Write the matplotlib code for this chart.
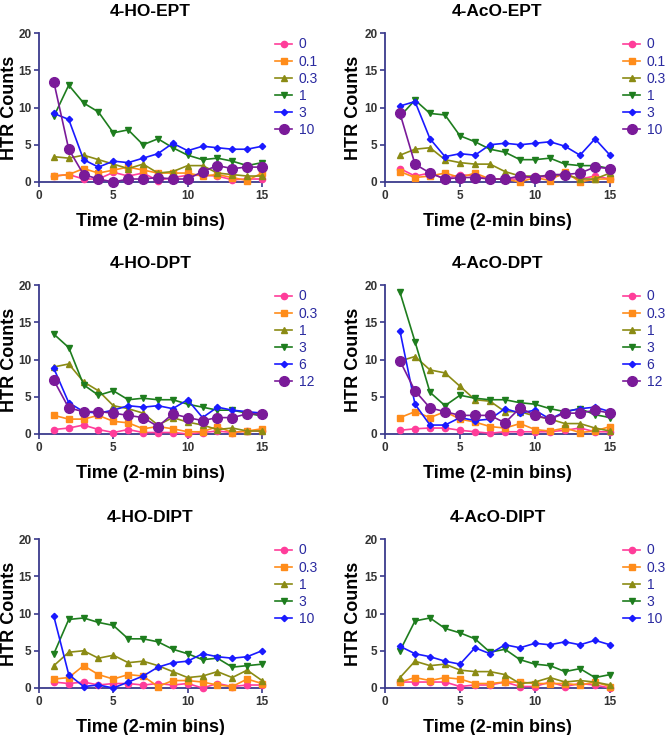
import numpy as np
import matplotlib.pyplot as plt

plt.rcParams['font.family'] = ['Liberation Sans', 'DejaVu Sans']

x = np.arange(1, 16)

# ---- data ----
titles = ["4-HO-EPT", "4-AcO-EPT", "4-HO-DPT", "4-AcO-DPT", "4-HO-DIPT", "4-AcO-DIPT"]

ho_ept_doses = ["0", "0.1", "0.3", "1", "3", "10"]
ho_ept = [
    [0.8, 1.0, 0.4, 0.4, 1.3, 0.8, 1.2, 0.2, 0.6, 0.9, 0.9, 0.8, 0.3, 0.4, 0.4],
    [0.8, 1.0, 1.8, 1.2, 1.6, 2.0, 1.6, 1.2, 1.2, 1.2, 0.8, 1.0, 0.6, 0.2, 1.2],
    [3.4, 3.2, 3.6, 3.0, 2.4, 1.8, 2.4, 1.2, 1.4, 2.2, 2.2, 1.2, 1.0, 0.8, 0.8],
    [8.8, 13.0, 10.6, 9.4, 6.6, 7.0, 5.0, 5.8, 4.6, 3.6, 3.0, 3.2, 2.8, 2.2, 2.6],
    [9.2, 8.4, 3.0, 2.0, 2.8, 2.6, 3.2, 3.8, 5.2, 4.2, 4.8, 4.6, 4.4, 4.4, 4.8],
    [13.4, 4.4, 1.0, 0.4, 0.0, 0.4, 0.4, 0.6, 0.4, 0.4, 1.4, 2.2, 1.8, 2.0, 2.0],
]

aco_ept_doses = ["0", "0.1", "0.3", "1", "3", "10"]
aco_ept = [
    [1.8, 0.8, 1.2, 0.4, 1.0, 0.8, 0.4, 0.4, 0.4, 0.8, 0.6, 1.0, 0.4, 0.8, 0.4],
    [1.4, 0.6, 0.8, 1.2, 0.6, 1.2, 0.4, 0.4, 0.0, 0.6, 0.2, 1.4, 0.0, 0.4, 0.4],
    [3.6, 4.4, 4.6, 3.0, 2.6, 2.4, 2.4, 1.4, 0.8, 0.8, 0.8, 1.0, 0.4, 0.4, 1.2],
    [8.8, 11.0, 9.2, 9.0, 6.2, 5.4, 4.4, 4.0, 3.0, 3.0, 3.2, 2.4, 2.2, 2.2, 1.8],
    [10.2, 10.8, 5.8, 3.4, 3.8, 3.6, 5.0, 5.2, 5.0, 5.2, 5.4, 4.8, 3.6, 5.8, 3.6],
    [9.2, 2.4, 1.2, 0.4, 0.6, 0.6, 0.4, 0.4, 0.8, 0.6, 1.0, 1.0, 1.2, 2.0, 1.8],
]

ho_dpt_doses = ["0", "0.3", "1", "3", "6", "12"]
ho_dpt = [
    [0.6, 0.8, 1.2, 0.6, 0.2, 0.6, 0.2, 0.2, 0.2, 0.0, 0.2, 0.4, 0.2, 0.4, 0.4],
    [2.5, 2.0, 2.0, 2.5, 1.7, 1.5, 0.7, 1.0, 0.7, 0.3, 0.3, 1.0, 0.2, 0.4, 0.7],
    [9.0, 9.4, 7.0, 5.8, 3.8, 3.4, 2.8, 1.2, 2.2, 1.6, 1.2, 0.6, 0.8, 0.4, 0.4],
    [13.4, 11.6, 6.6, 5.2, 5.8, 4.6, 4.8, 4.6, 4.6, 4.0, 3.6, 3.2, 3.2, 2.8, 2.4],
    [8.8, 4.2, 3.0, 2.8, 3.2, 3.8, 3.6, 3.8, 3.4, 4.6, 2.2, 3.6, 3.2, 3.0, 2.8],
    [7.2, 3.5, 3.0, 3.0, 2.8, 2.5, 2.2, 1.0, 2.7, 2.2, 1.8, 2.2, 2.2, 2.7, 2.7],
]

aco_dpt_doses = ["0", "0.3", "1", "3", "6", "12"]
aco_dpt = [
    [0.5, 0.7, 0.8, 0.8, 0.5, 0.3, 0.1, 0.3, 0.3, 0.3, 0.3, 0.5, 0.8, 0.3, 0.3],
    [2.2, 3.0, 2.2, 3.0, 2.0, 1.6, 1.0, 0.8, 1.4, 0.6, 0.4, 0.8, 0.2, 0.4, 1.0],
    [9.8, 10.4, 8.6, 8.2, 6.4, 4.6, 4.4, 3.0, 3.0, 2.4, 2.0, 1.4, 1.4, 0.8, 0.4],
    [19.0, 12.4, 5.6, 3.8, 5.2, 4.8, 4.6, 4.6, 4.2, 4.0, 3.4, 3.0, 3.4, 2.6, 2.2],
    [13.8, 4.0, 1.2, 1.2, 2.2, 1.8, 2.0, 3.4, 2.8, 3.2, 2.0, 3.0, 3.4, 3.6, 3.0],
    [9.8, 5.8, 3.5, 3.0, 2.5, 2.5, 2.5, 1.5, 3.5, 2.5, 2.0, 2.8, 2.8, 3.2, 2.8],
]

ho_dipt_doses = ["0", "0.3", "1", "3", "10"]
ho_dipt = [
    [0.8, 0.6, 0.8, 0.4, 0.6, 0.6, 0.4, 0.6, 0.4, 0.6, 0.0, 0.6, 0.2, 0.4, 0.4],
    [1.2, 1.4, 3.0, 1.8, 1.2, 1.8, 1.6, 0.2, 1.0, 1.0, 0.8, 0.4, 0.2, 1.2, 0.6],
    [3.0, 4.8, 5.0, 4.0, 4.4, 3.4, 3.6, 3.0, 2.2, 1.4, 1.6, 2.2, 1.4, 2.4, 1.0],
    [4.6, 9.2, 9.4, 8.8, 8.4, 6.6, 6.6, 6.2, 5.2, 4.6, 3.8, 4.0, 2.8, 3.0, 3.2],
    [9.6, 1.8, 0.2, 0.4, 0.0, 0.8, 1.6, 2.8, 3.4, 3.6, 4.6, 4.2, 4.0, 4.2, 5.0],
]

aco_dipt_doses = ["0", "0.3", "1", "3", "10"]
aco_dipt = [
    [0.8, 0.8, 0.8, 0.8, 0.2, 0.4, 0.4, 0.8, 0.2, 0.2, 0.8, 0.2, 0.6, 0.4, 0.0],
    [0.8, 1.4, 1.0, 1.4, 1.2, 0.6, 0.6, 0.8, 0.8, 0.6, 0.6, 0.6, 0.4, 0.8, 0.2],
    [1.4, 3.6, 3.0, 3.2, 2.4, 2.2, 2.2, 1.8, 0.6, 0.8, 1.4, 0.8, 1.0, 0.8, 0.4],
    [5.0, 9.0, 9.4, 8.0, 7.4, 6.6, 4.8, 5.2, 3.8, 3.2, 3.0, 2.2, 2.6, 1.4, 1.8],
    [5.6, 4.6, 4.2, 3.6, 3.2, 5.4, 4.6, 5.8, 5.4, 6.0, 5.8, 6.2, 5.8, 6.4, 5.8],
]

panels = [
    (ho_ept_doses, ho_ept), (aco_ept_doses, aco_ept),
    (ho_dpt_doses, ho_dpt), (aco_dpt_doses, aco_dpt),
    (ho_dipt_doses, ho_dipt), (aco_dipt_doses, aco_dipt),
]

# series styles by position (dose order within a panel)
styles = [
    dict(color="#ff3d9a", marker="o", ms=4.5),
    dict(color="#ff8c1a", marker="s", ms=4.5),
    dict(color="#8b8b14", marker="^", ms=5),
    dict(color="#1e7d1e", marker="v", ms=5),
    dict(color="#1a1aff", marker="D", ms=3.2),
    dict(color="#7a1a99", marker="o", ms=7),
]

axis_col = "#3a3a8c"
lefts = [39 / 666, 385 / 666]
widths = [223 / 666, 225 / 666]
ylab_x = [-0.094, -0.102]
bottoms = [1 - 182 / 735, 1 - 434 / 735, 1 - 688 / 735]
height = 149 / 735

fig = plt.figure(figsize=(6.66, 7.35), dpi=100)

for i, (doses, series) in enumerate(panels):
    row, col = divmod(i, 2)
    ax = fig.add_axes([lefts[col], bottoms[row], widths[col], height])
    for d, y, s in zip(doses, series, styles):
        ax.plot(x, y, color=s["color"], marker=s["marker"], ms=s["ms"],
                lw=1.2, label=d, clip_on=False, zorder=3)
    ax.set_xlim(0, 15)
    ax.set_ylim(0, 20)
    ax.set_xticks([0, 5, 10, 15])
    ax.set_yticks([0, 5, 10, 15, 20])
    for sp in ["top", "right"]:
        ax.spines[sp].set_visible(False)
    for sp in ["left", "bottom"]:
        ax.spines[sp].set_color(axis_col)
        ax.spines[sp].set_linewidth(1.3)
    ax.tick_params(colors=axis_col, length=3.5, width=1.2, labelcolor="#333333",
                   labelsize=8.5, pad=2)
    for lab in ax.get_xticklabels() + ax.get_yticklabels():
        lab.set_fontweight("bold")
    ax.set_title(titles[i], fontsize=12.5, fontweight="bold", pad=12.5)
    ax.set_xlabel("Time (2-min bins)", fontsize=13, fontweight="bold", labelpad=8)
    ax.set_ylabel("HTR Counts", fontsize=13, fontweight="bold")
    ax.yaxis.set_label_coords(ylab_x[col], 0.5)
    leg = ax.legend(loc="upper left", bbox_to_anchor=(1.058, 0.97), frameon=False,
                    fontsize=10, handlelength=1.25, labelspacing=0.22,
                    handletextpad=0.45, borderaxespad=0.0, borderpad=0.0)
    for t in leg.get_texts():
        t.set_color("#2a2aa0")

fig.savefig("out.png", dpi=100)
